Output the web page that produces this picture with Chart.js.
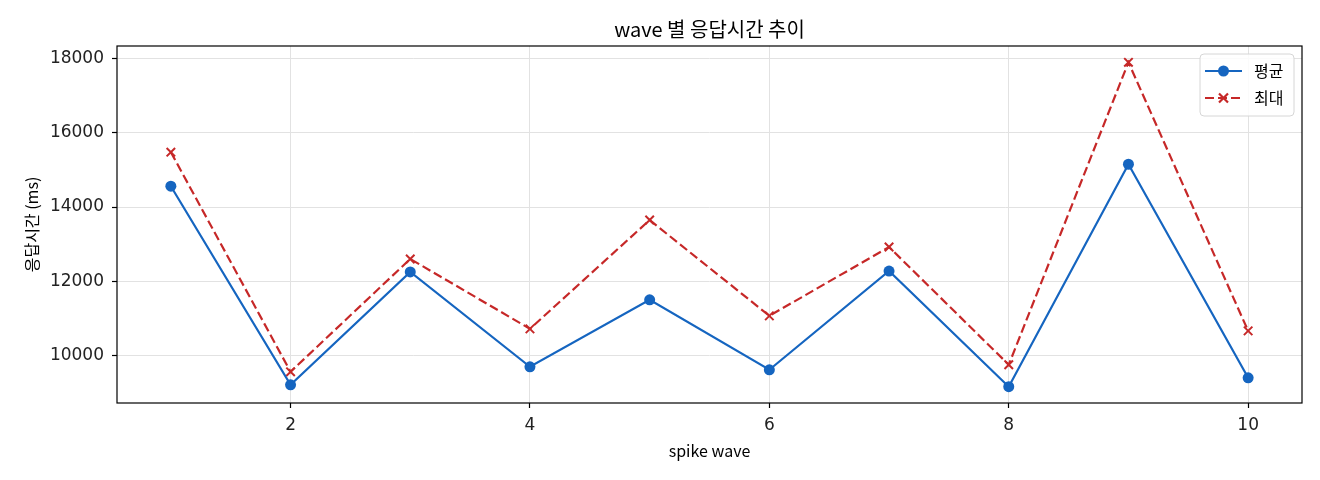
<!DOCTYPE html>
<html>
<head>
<meta charset="utf-8">
<script src="https://cdn.jsdelivr.net/npm/chart.js@4/dist/chart.umd.min.js"></script>
<style>
    html, body { margin: 0; padding: 0; background: #fff; }
    #wrap { width: 1320px; height: 480px; }
</style>
</head>
<body>
<div id="wrap"><canvas id="waveChart" width="1320" height="480"></canvas></div>
<script>
// wave 별 응답시간 (ms)
const waves = [1, 2, 3, 4, 5, 6, 7, 8, 9, 10];
const avgValues = [14560, 9220, 12255, 9705, 11505, 9625, 12280, 9170, 15150, 9410];
const maxValues = [15475, 9570, 12605, 10725, 13650, 11075, 12925, 9760, 17890, 10670];
const xTicks = [2, 4, 6, 8, 10];
const yTicks = [10000, 12000, 14000, 16000, 18000];

const titleText = "wave 별 응답시간 추이";
const xLabel = "spike wave";
const yLabel = "응답시간 (ms)";
const seriesNames = ["평균", "최대"];

const BLUE = "#1565c0";
const RED = "#c62828";
const KR_FONT = "'Noto Sans CJK KR', 'Noto Sans', sans-serif";
const NUM_FONT = "'DejaVu Sans', sans-serif";

// frame, titles and legend drawn like matplotlib
const decorPlugin = {
    id: "decor",
    afterDraw(chart) {
        const { ctx, chartArea: a } = chart;
        ctx.save();

        // frame
        ctx.strokeStyle = "#000";
        ctx.lineWidth = 1.2;
        ctx.strokeRect(a.left, a.top, a.right - a.left, a.bottom - a.top);

        // title
        ctx.fillStyle = "#000";
        ctx.textAlign = "center";
        ctx.textBaseline = "middle";
        ctx.font = "20px " + KR_FONT;
        ctx.fillText(titleText, (a.left + a.right) / 2, 29);

        // axis labels
        ctx.font = "16px " + KR_FONT;
        ctx.fillText(xLabel, (a.left + a.right) / 2, 451);
        ctx.save();
        ctx.translate(32, (a.top + a.bottom) / 2);
        ctx.rotate(-Math.PI / 2);
        ctx.fillText(yLabel, 0, 0);
        ctx.restore();

        // legend
        const lx = 1200, ly = 54, lw = 94, lh = 62;
        ctx.fillStyle = "rgba(255,255,255,0.85)";
        ctx.strokeStyle = "#d6d6d6";
        ctx.lineWidth = 1;
        ctx.beginPath();
        ctx.roundRect(lx, ly, lw, lh, 4);
        ctx.fill();
        ctx.stroke();

        const rows = [
            { y: 71, color: BLUE, dash: [], marker: "circle", name: seriesNames[0] },
            { y: 98, color: RED, dash: [9, 4], marker: "cross", name: seriesNames[1] }
        ];
        rows.forEach(r => {
            ctx.strokeStyle = r.color;
            ctx.lineWidth = 2.2;
            ctx.setLineDash(r.dash);
            ctx.beginPath();
            ctx.moveTo(1205, r.y);
            ctx.lineTo(1242, r.y);
            ctx.stroke();
            ctx.setLineDash([]);
            if (r.marker === "circle") {
                ctx.fillStyle = r.color;
                ctx.beginPath();
                ctx.arc(1223.5, r.y, 5.5, 0, Math.PI * 2);
                ctx.fill();
            } else {
                ctx.beginPath();
                ctx.moveTo(1219, r.y - 4.5);
                ctx.lineTo(1228, r.y + 4.5);
                ctx.moveTo(1228, r.y - 4.5);
                ctx.lineTo(1219, r.y + 4.5);
                ctx.stroke();
            }
            ctx.fillStyle = "#000";
            ctx.textAlign = "left";
            ctx.font = "16px " + KR_FONT;
            ctx.fillText(r.name, 1254, r.y);
        });

        ctx.restore();
    }
};

new Chart(document.getElementById("waveChart"), {
    type: "line",
    data: {
        datasets: [
            {
                label: seriesNames[0],
                data: waves.map((w, i) => ({ x: w, y: avgValues[i] })),
                borderColor: BLUE,
                backgroundColor: BLUE,
                borderWidth: 2.2,
                pointStyle: "circle",
                pointRadius: 5.5,
                pointBorderWidth: 0,
                pointBackgroundColor: BLUE,
                tension: 0
            },
            {
                label: seriesNames[1],
                data: waves.map((w, i) => ({ x: w, y: maxValues[i] })),
                borderColor: RED,
                backgroundColor: RED,
                borderWidth: 2.2,
                borderDash: [9, 4],
                pointStyle: "crossRot",
                pointRadius: 6,
                pointBorderWidth: 2,
                pointBorderColor: RED,
                tension: 0
            }
        ]
    },
    options: {
        responsive: false,
        animation: false,
        devicePixelRatio: 1,
        layout: {
            padding: { top: 46, right: 18, bottom: 0, left: 0 }
        },
        plugins: {
            legend: { display: false },
            title: { display: false },
            tooltip: { enabled: false }
        },
        scales: {
            x: {
                type: "linear",
                min: 0.55,
                max: 10.45,
                afterBuildTicks: scale => {
                    scale.ticks = xTicks.map(v => ({ value: v }));
                },
                afterFit: scale => { scale.height = 77; },
                grid: {
                    color: "#e2e2e2",
                    lineWidth: 1,
                    tickLength: 5,
                    tickColor: "#000",
                    tickWidth: 1.2
                },
                border: { display: false },
                ticks: {
                    color: "#222",
                    padding: 7,
                    maxRotation: 0,
                    font: { family: NUM_FONT, size: 17 }
                }
            },
            y: {
                type: "linear",
                min: 8732,
                max: 18329,
                afterBuildTicks: scale => {
                    scale.ticks = yTicks.map(v => ({ value: v }));
                },
                afterFit: scale => { scale.width = 117; },
                grid: {
                    color: "#e2e2e2",
                    lineWidth: 1,
                    tickLength: 5,
                    tickColor: "#000",
                    tickWidth: 1.2
                },
                border: { display: false },
                ticks: {
                    color: "#222",
                    padding: 8,
                    font: { family: NUM_FONT, size: 17 },
                    callback: v => String(v)
                }
            }
        }
    },
    plugins: [decorPlugin]
});
</script>
</body>
</html>
